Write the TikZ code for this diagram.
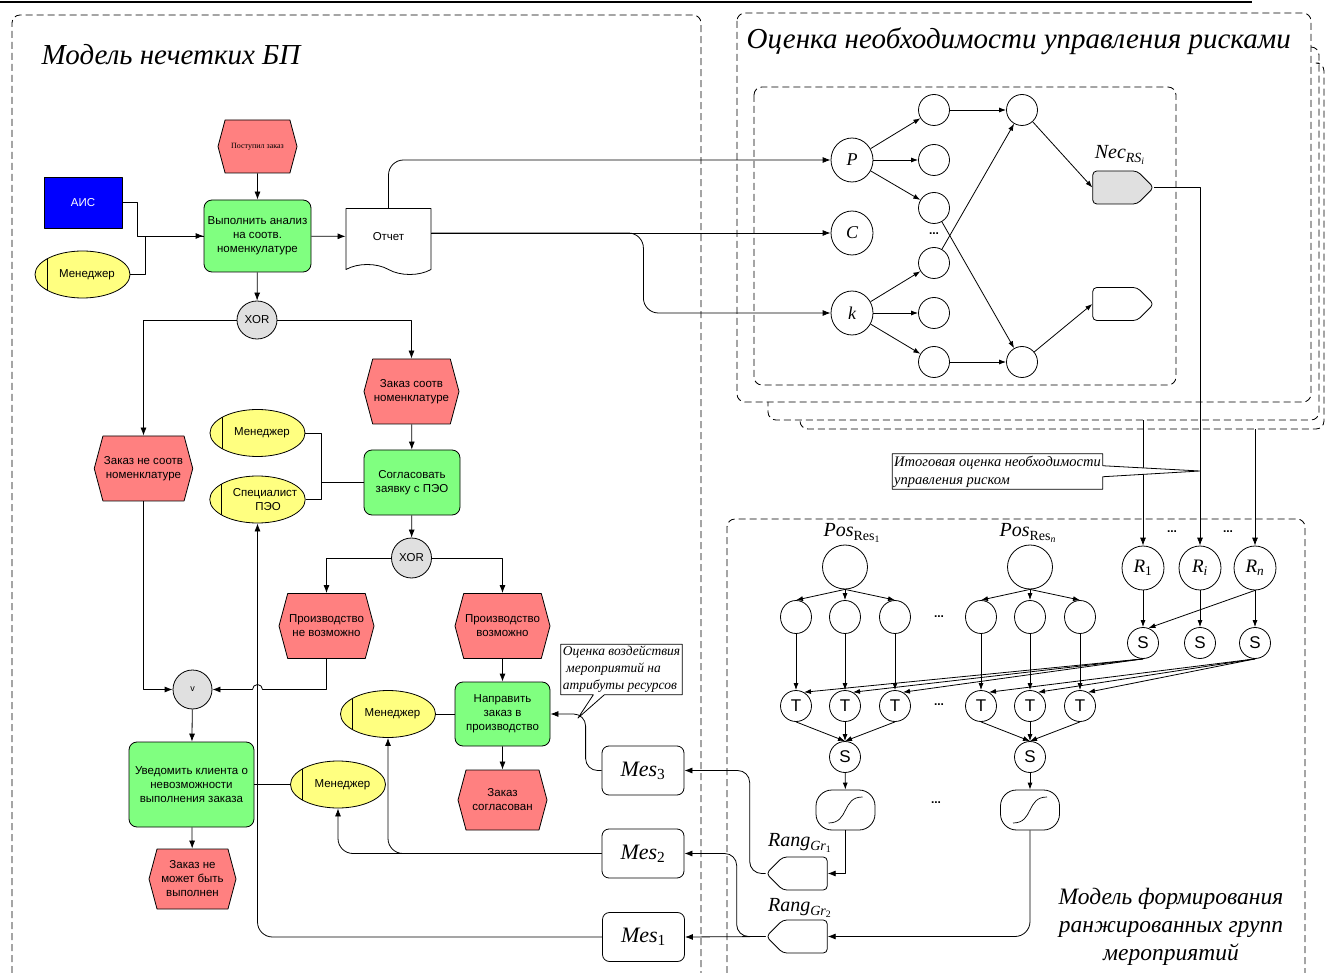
\documentclass[tikz,border=0pt]{standalone}
\usepackage{fontspec}
\setmainfont{Liberation Serif}
\setsansfont{Liberation Sans}
\usetikzlibrary{shapes.geometric,shapes.symbols,shapes.callouts,arrows.meta}

\definecolor{evtred}{HTML}{FF8080}
\definecolor{fnctgreen}{HTML}{80FF80}
\definecolor{orgyellow}{HTML}{FFFF80}
\definecolor{aisblue}{HTML}{0000FF}
\definecolor{opgray}{HTML}{E0E0E0}

\tikzset{
	panel/.style={dash pattern=on 7pt off 4pt, rounded corners=8, line width=0.85pt},
	evt/.style={signal, signal to=west and east, signal pointer angle=150, draw, fill=evtred,
		minimum width=95, minimum height=65, inner sep=1pt, align=center},
	fnct/.style={draw, fill=fnctgreen, rounded corners=8, minimum width=96, minimum height=65,
		inner sep=1pt, align=center},
	org/.style={ellipse, draw, fill=orgyellow, minimum width=95, minimum height=47, inner sep=0pt,
		align=center, execute at begin node=\hspace*{9pt},
		path picture={\draw ([xshift=12pt]path picture bounding box.north west)
			-- ([xshift=12pt]path picture bounding box.south west);}},
	oper/.style={ellipse, draw, fill=opgray, minimum width=40, minimum height=38, inner sep=0pt},
	doc/.style={tape, draw, fill=white, tape bend top=none, tape bend bottom=out and in,
		tape bend height=10, minimum width=85, minimum height=66},
	mes/.style={draw, rounded corners=7, minimum width=82, minimum height=49,
		font=\rmfamily\fontsize{22}{24}\selectfont},
	note/.style={rectangle callout, draw, fill=white, callout pointer width=11, align=left,
		inner sep=2pt, font=\rmfamily\itshape\fontsize{13.5}{17}\selectfont},
	big/.style={ellipse, draw, minimum width=42, minimum height=44, inner sep=0pt,
		font=\rmfamily\itshape\fontsize{18}{20}\selectfont},
	nn/.style={ellipse, draw, minimum width=31, minimum height=31, inner sep=0pt},
	tsym/.style={font=\sffamily\fontsize{17}{17}\selectfont},
	disp/.style={signal, signal to=east, signal pointer angle=90, draw, rounded corners=4,
		minimum width=61, minimum height=33, inner sep=0pt},
	rang/.style={disp, signal to=west},
	sigm/.style={draw, rounded corners=16, minimum width=59, minimum height=40,
		path picture={\draw[line width=0.7pt] ([shift={(-17,13)}]path picture bounding box.center)
			.. controls ([shift={(4,13)}]path picture bounding box.center)
			and ([shift={(-4,-13)}]path picture bounding box.center)
			.. ([shift={(17,-13)}]path picture bounding box.center);}},
	lbl/.style={font=\rmfamily\itshape\fontsize{20}{22}\selectfont},
	title/.style={font=\rmfamily\itshape\fontsize{29}{34}\selectfont},
	etc/.style={font=\sffamily\bfseries\fontsize{12}{12}\selectfont},
	sarr/.style={->, >={Latex[length=7pt,width=5pt]}}
}

\begin{document}
\begin{tikzpicture}[x=1pt,y=-1pt,line join=round,>={Latex[length=8pt,width=6pt]},line width=0.8pt,
	font=\sffamily\fontsize{11.5}{14}\selectfont]
	\useasboundingbox (0,0) rectangle (1326,973);
	% рамки
	\draw[line width=1.5pt] (0,2) -- (1252,2);
	\draw[panel] (12,973) -- (12,15) -- (701,15) -- (701,973);
	\draw[panel] (737,13) rectangle (1311,402);
	\draw[panel] (1311,47) -- (1319,47) -- (1319,420) -- (768,420) -- (768,402);
	\draw[panel] (1319,63) -- (1324,63) -- (1324,429) -- (800,429) -- (800,420);
	\draw[panel] (754,87) rectangle (1176,385);
	\draw[panel] (727,973) -- (727,519) -- (1305,519) -- (1305,973);
	\path (1143,420) coordinate (b2) (1254,429) coordinate (b3);
	\node[title,anchor=west] at (38,55) {Модель нечетких БП};
	\node[title,anchor=west] at (743,41) {Оценка необходимости управления рисками};
	\node[title,font=\rmfamily\itshape\fontsize{23.5}{28}\selectfont,align=center] at (1171,927)
		{Модель формирования\\ранжированных групп\\мероприятий};
	
	% модель нечетких БП
	\node[draw,fill=aisblue,text=white,minimum width=78,minimum height=51] (ais) at (83,202.5) {АИС};
	\node[org] (men1) at (82.5,274.5) {Менеджер};
	\node[evt,minimum width=79,minimum height=53,font=\rmfamily\fontsize{8}{9}\selectfont] (post) at (257.5,146.5) {Поступил заказ};
	\node[fnct,minimum width=107,minimum height=72] (analiz) at (257.5,236) {Выполнить анализ\\на соотв.\\номенкулатуре};
	\node[doc] (otchet) at (388.5,236.5) {Отчет};
	\node[oper] (xor1) at (257,320) {XOR};
	\node[evt] (zs) at (411.5,391.5) {Заказ соотв\\номенклатуре};
	\node[evt] (zne) at (143.5,468.5) {Заказ не соотв\\номенклатуре};
	\node[org] (men2) at (257.5,433) {Менеджер};
	\node[org,inner xsep=-6pt,execute at begin node=\hspace*{6pt}] (spec) at (257.5,499.5) {Специалист\\\hspace*{6pt}ПЭО};
	\node[fnct] (soglas) at (412,482.5) {Согласовать\\заявку с ПЭО};
	\node[oper,minimum height=40] (xor2) at (411.5,558) {XOR};
	\node[evt] (prn) at (326.5,626) {Производство\\не возможно};
	\node[evt] (prv) at (502.5,626) {Производство\\возможно};
	\node[oper,minimum width=39,minimum height=39,font=\sffamily\fontsize{9}{9}\selectfont] (v) at (192.5,689.5) {v};
	\node[fnct,minimum width=125,minimum height=85] (uved) at (191.5,784.5) {Уведомить клиента о\\невозможности\\выполнения заказа};
	\node[org] (men4) at (338,784.5) {Менеджер};
	\node[evt,minimum width=87,minimum height=60] (zneb) at (192.5,879) {Заказ не\\может быть\\выполнен};
	\node[org] (men3) at (388,714) {Менеджер};
	\node[fnct,minimum width=95,minimum height=64] (napr) at (502.5,714) {Направить\\заказ в\\производство};
	\node[evt,minimum width=89,minimum height=60] (zsogl) at (502.5,800) {Заказ\\согласован};
	\node[mes] (mes3) at (643,770.5) {\textit{Mes}\textsubscript{3}};
	\node[mes] (mes2) at (643,853.5) {\textit{Mes}\textsubscript{2}};
	\node[mes] (mes1) at (643.5,937) {\textit{Mes}\textsubscript{1}};
	\node[note,callout absolute pointer={(578,718)}] (eff) at (621.5,669.5) {Оценка воздействия\\\ мероприятий на\\атрибуты ресурсов};
	
	\draw[->] (post) -- (analiz);
	\draw[->] (ais.east) -- ++(15,0) |- (analiz.west);
	\draw (men1.east) -- ++(15,0) |- (analiz.west);
	\draw[->] (analiz) -- (otchet);
	\draw[->] (analiz) -- (xor1);
	\draw[->] (xor1.west) -| (zne.north);
	\draw[->] (xor1.east) -| (zs.north);
	\draw[->] (zs) -- (soglas);
	\draw (men2.east) -- ++(16,0) coordinate (brk) |- (spec.east);
	\draw[line width=1.6pt] (brk |- soglas.west) -- (soglas.west);
	\draw[->] (soglas) -- (xor2);
	\draw[->] (xor2.west) -| (prn.north);
	\draw[->] (xor2.east) -| (prv.north);
	\draw[->] (zne.south) |- (v.west);
	\coordinate (hop) at (spec.south |- v.east);
	\draw[->] (prn.south) |- ([xshift=5pt]hop) arc[start angle=0,end angle=-180,radius=5] -- (v.east);
	\draw[->] (v) -- (uved);
	\draw[->] (uved) -- (zneb);
	\draw (uved) -- (men4);
	\draw[->] (prv) -- (napr);
	\draw[->] (napr) -- (zsogl);
	\draw (men3) -- (napr);
	\draw[->,rounded corners=12] (mes3.west) -- ++(-16,0) |- (napr.east);
	\draw[->,rounded corners=15] (mes2.west) -| (men3.south);
	\draw[->,rounded corners=15] (mes2.west) -| (men4.south);
	\draw[->,rounded corners=15] (mes1.west) -| (spec.south);
	
	% оценка необходимости
	\node[big] (P) at (852,160) {P};
	\node[big] (C) at (852,233) {C};
	\node[big] (k) at (852,313) {k};
	\foreach \n/\y in {a/110,b/160,c/208,d/263,e/313,f/362}
		\node[nn] (m\n) at (934,\y) {};
	\node[nn] (ra) at (1022,110) {};
	\node[nn] (rb) at (1022,362) {};
	\node[etc] at (934,234) {...};
	\node[disp,fill=opgray] (nec) at (1115,187.5) {};
	\node[lbl] at (1120,155) {Nec\textsubscript{RS\textsubscript{i}}};
	\node[disp] (out2) at (1115,304) {};
	
	\draw[->,rounded corners=15] (otchet.north) |- (P.west);
	\draw[->] (otchet.east |- C.west) -- (C.west);
	\path (otchet.east |- C.west) ++(212,0) coordinate (jog);
	\draw[->,rounded corners=15] (otchet.east |- C.west) -- (jog) |- (k.west);
	\foreach \t in {a,b,c} \draw[sarr] (P) -- (m\t);
	\foreach \t in {d,e,f} \draw[sarr] (k) -- (m\t);
	\draw[sarr] (ma) -- (ra);
	\draw[sarr] (md) -- (ra);
	\draw[sarr] (mc) -- (rb);
	\draw[sarr] (mf) -- (rb);
	\draw[sarr] (ra) -- (nec.west);
	\draw[sarr] (rb) -- (out2.west);
	
	% ранжированные группы
	\node[big,font=\rmfamily\fontsize{19}{20}\selectfont] (R1) at (1143,568) {\textit{R}\textsubscript{1}};
	\node[big,font=\rmfamily\fontsize{19}{20}\selectfont] (Ri) at (1200,568) {\textit{R}\textsubscript{\textit{i}}};
	\node[big,font=\rmfamily\fontsize{19}{20}\selectfont] (Rn) at (1255,568) {\textit{R}\textsubscript{\textit{n}}};
	\node[etc] at (1172,532) {...};
	\node[etc] at (1228,532) {...};
	\draw[->] (nec.east) -| (Ri.north);
	\draw[->] (R1.north |- b2) -- (R1.north);
	\draw[->] (Rn.north |- b3) -- (Rn.north);
	\node[note,callout absolute pointer={(1200,471)},font=\rmfamily\itshape\fontsize{14.5}{18}\selectfont] (itog) at (997.5,471.5)
		{Итоговая оценка необходимости\\управления риском};
	
	\node[big,minimum width=45] (pos1) at (845,567) {};
	\node[big,minimum width=45] (posn) at (1030,567) {};
	\node[lbl] at (852,533) {Pos\textsubscript{\upshape Res\textsubscript{1}}};
	\node[lbl] at (1028,533) {Pos\textsubscript{\upshape Res\textsubscript{\itshape n}}};
	\foreach \i/\x in {1/796,2/845,3/895,4/981,5/1030,6/1080} {
		\node[nn,minimum height=33] (p\i) at (\x,617) {};
		\node[nn,tsym] (T\i) at (\x,706) {T};
		\draw[sarr] (p\i) -- (T\i);
	}
	\foreach \i in {1,2,3} \draw[sarr] (pos1.south) -- (p\i.north);
	\foreach \i in {4,5,6} \draw[sarr] (posn.south) -- (p\i.north);
	\node[etc] at (939,617) {...};
	\node[etc] at (939,705) {...};
	\node[etc] at (936,803) {...};
	
	\node[nn,tsym] (S1) at (1143,643) {S};
	\node[nn,tsym] (S2) at (1200,643) {S};
	\node[nn,tsym] (S3) at (1255,643) {S};
	\draw[sarr] (R1) -- (S1);
	\draw[sarr] (Ri) -- (S2);
	\draw[sarr] (Rn) -- (S3);
	\draw[sarr] (Rn.south) -- (S1.70);
	\foreach \i in {1,2,3} \draw[sarr] (S1.south) -- (T\i.60);
	\foreach \i in {4,5,6} \draw[sarr] (S3.south) -- (T\i.60);
	\node[nn,tsym] (Sa) at (845,757) {S};
	\node[nn,tsym] (Sb) at (1030,757) {S};
	\foreach \i in {1,2,3} \draw[sarr] (T\i.south) -- (Sa.north);
	\foreach \i in {4,5,6} \draw[sarr] (T\i.south) -- (Sb.north);
	\node[sigm] (sg1) at (845.5,810) {};
	\node[sigm] (sg2) at (1030,810) {};
	\draw[sarr] (Sa) -- (sg1);
	\draw[sarr] (Sb) -- (sg2);
	
	\node[rang] (rang1) at (805,873.5) {};
	\node[rang] (rang2) at (805,936.5) {};
	\node[lbl] at (800,843) {Rang\textsubscript{Gr\textsubscript{\upshape 1}}};
	\node[lbl] at (800,908) {Rang\textsubscript{Gr\textsubscript{\upshape 2}}};
	\draw[->] (sg1.south) |- (rang1.east);
	\draw[->,rounded corners=15] (sg2.south) |- (rang2.east);
	\draw[->,rounded corners=12] (rang1.west) -- ++(-16,0) |- (mes3.east);
	\draw[->,rounded corners=12] (rang2.west) -- ++(-29,0) |- (mes2.east);
	\draw[->] (rang2.west) -- (mes1.east);
\end{tikzpicture}
\end{document}
